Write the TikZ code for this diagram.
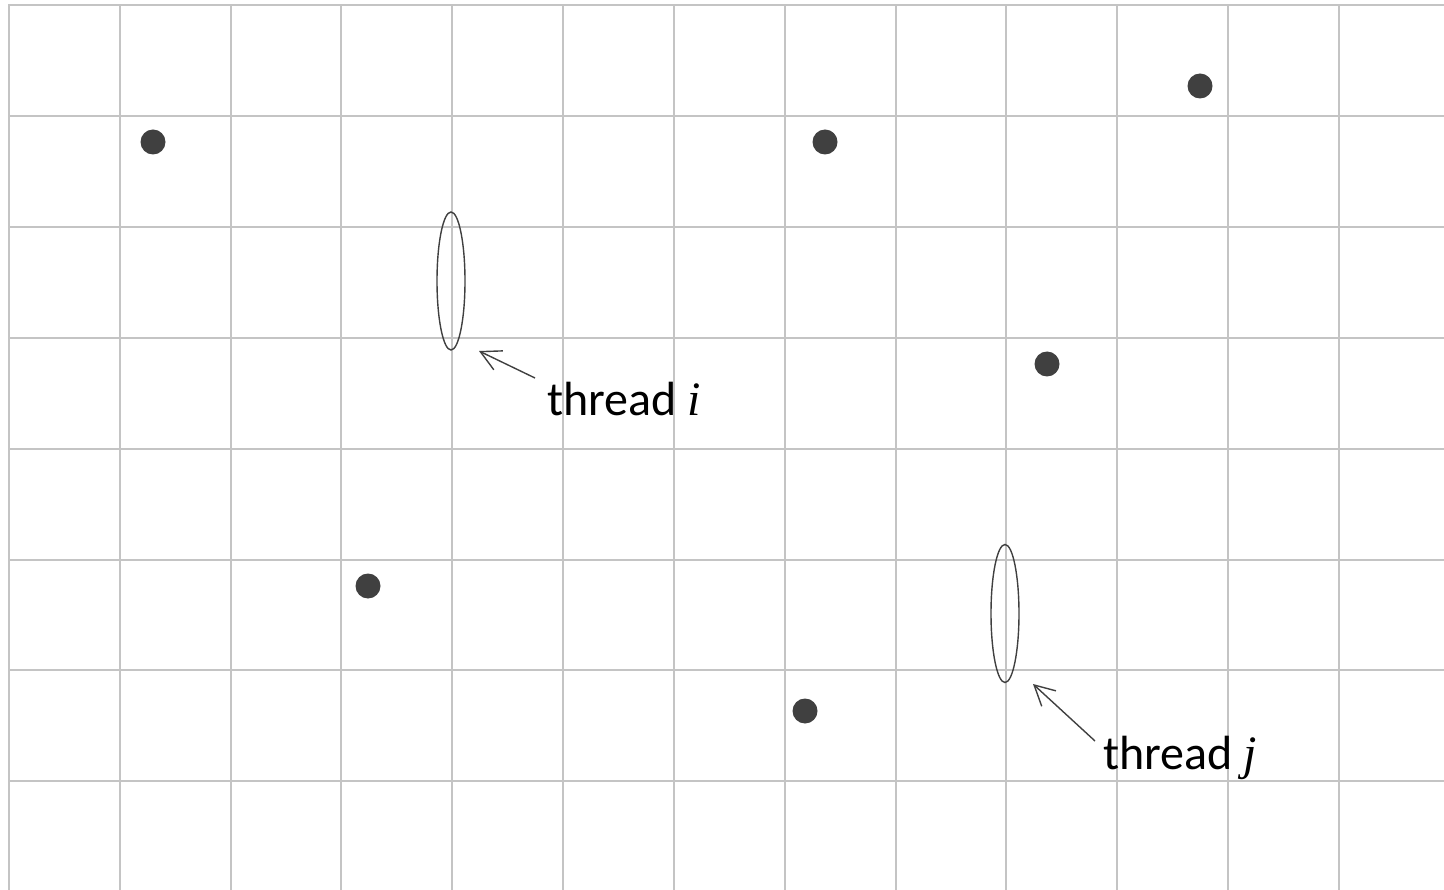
\documentclass[tikz,border=0pt]{standalone}
\usepackage{fontspec}
\setmainfont{Carlito}
\newfontfamily\varfont{Liberation Serif}
\usetikzlibrary{arrows.meta,shapes.geometric}
\definecolor{gridgray}{HTML}{C4C4C4}
\definecolor{inkgray}{HTML}{404040}
\newcommand{\threadvar}[1]{{\varfont\itshape #1}}
\tikzset{
  gridline/.style={draw=gridgray, line width=2pt},
  dot/.style={circle, fill=inkgray, inner sep=0pt, minimum size=25pt},
  threadmark/.style={ellipse, draw=inkgray, line width=1.4pt, inner sep=0pt,
                     minimum width=28pt, minimum height=138pt},
  tag/.style={anchor=base west, inner sep=0pt, font=\fontsize{48}{56}\selectfont, text=black},
  pointer/.style={draw=inkgray, line width=1.4pt,
                  -{Straight Barb[length=20pt, width=21pt, line width=1.4pt]}}
}
\begin{document}
\begin{tikzpicture}[x=1pt, y=-1pt]
  \useasboundingbox (0,0) rectangle (1444,890);
  % background grid
  \foreach \i in {0,...,12}
    \draw[gridline] (9+\i*110.83,5) -- (9+\i*110.83,890);
  \foreach \j in {0,...,7}
    \draw[gridline] (8,5+\j*110.9) -- (1444,5+\j*110.9);
  % points
  \node[dot] (p1) at (153,142) {};
  \node[dot] (p2) at (825,142) {};
  \node[dot] (p3) at (1200,86) {};
  \node[dot] (p4) at (1047,364) {};
  \node[dot] (p5) at (368,586) {};
  \node[dot] (p6) at (805,711) {};
  % threads
  \node[threadmark] (ti) at (451,281) {};
  \node[threadmark] (tj) at (1005,613.5) {};
  % labels
  \node[tag] (li) at (547,416) {thread \threadvar{i}};
  \node[tag] (lj) at (1103,769) {thread \threadvar{j}};
  \coordinate (si) at (535,378);
  \coordinate (ei) at (479,351);
  \coordinate (sj) at (1095,741);
  \coordinate (ej) at (1033,684);
  \draw[pointer] (si) -- (ei);
  \draw[pointer] (sj) -- (ej);
\end{tikzpicture}
\end{document}
